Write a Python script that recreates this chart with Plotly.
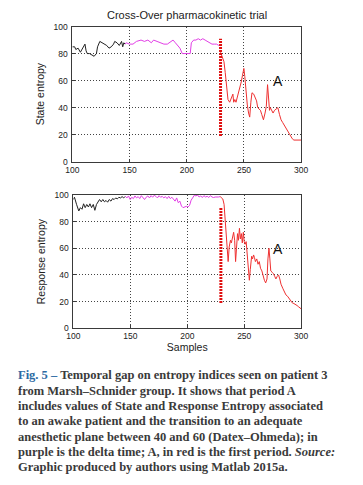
import plotly.graph_objects as go

# ---------------- data ----------------
# State entropy (top)
se_black_x = [100, 102, 103, 105, 107, 109, 111, 112, 113, 115, 117, 119, 121, 122, 124, 126, 128, 130, 132, 134, 136, 137, 139, 141, 143, 144, 145, 146]
se_black_y = [85, 85, 83, 84, 81, 84, 87, 82, 80, 80, 79, 78, 80, 85, 89, 88, 87, 86, 84, 85, 87, 89, 88, 86, 89, 85, 88, 87]
se_mag_x = [146, 147, 150, 153, 156, 160, 163, 166, 169, 171, 174, 177, 180, 183, 186, 188, 190, 192, 194, 196, 198, 200, 203, 204, 206, 208, 210, 212, 214, 216, 218, 220, 222, 224, 226, 228, 229.5]
se_mag_y = [87, 88, 87, 87, 89, 90, 89, 90, 88, 90, 89, 88, 87, 87, 89, 90, 88, 86, 84, 80, 80, 80, 80, 88, 90, 90, 91, 90, 91, 90, 89, 88, 87, 87, 87, 86, 86]
se_red_x = [229.5, 231.4, 232.5, 233.6, 234.7, 236, 237.5, 238.9, 240.3, 241, 242, 243, 244, 245, 246.5, 247.6, 248.7, 249.9, 250.7, 251.8, 252.9, 254, 255, 256, 257, 258.5, 260, 261, 262, 263.3, 264.4, 265.5, 267, 268.4, 269.5, 270.6, 271.5, 272.3, 273, 274, 275.4, 276.7, 278, 279.6, 281, 282.4, 283.8, 285.2, 286.6, 288, 289.4, 290.8, 292.2, 293.6, 295, 296.4, 300]
se_red_y = [81, 77, 74, 66, 56, 46, 44, 47, 50, 44, 46, 44, 47, 52, 56, 59, 64, 69, 63, 51, 42, 36, 33, 44, 51, 50, 47, 45, 40, 39, 38, 35, 31, 36, 41, 57, 46, 38, 40, 38, 36, 38, 39, 40, 35, 31, 29, 27, 24, 23, 21, 19, 17, 16, 16, 16, 16]

# Response entropy (bottom)
re_black_x = [100, 101, 102.8, 104.8, 106.2, 107.6, 109, 110.4, 111.8, 113.2, 114.6, 116, 117.5, 118.9, 120.3, 121.7, 123, 124.5, 125.9, 127.3, 128.7, 130.1, 131.5, 133, 134.4, 135.8, 137.2, 138.6, 140, 141.4, 142.8, 144.2, 145.6]
re_black_y = [96.6, 98.3, 93, 88, 90.5, 89.3, 93.4, 90.5, 92.9, 91, 93.4, 90.5, 92.9, 88.5, 92.9, 95.4, 96.6, 94.9, 96.6, 94.9, 95.9, 94.6, 96.6, 95.4, 97.3, 96.6, 97.8, 97.1, 98.3, 97.8, 98.8, 97.8, 99]
re_mag_x = [145.6, 147, 148.4, 149.9, 151.3, 152.7, 154.1, 155.5, 156.9, 158.3, 159.7, 161.1, 162.5, 163.9, 165.4, 166.8, 168.2, 169.6, 171, 172.4, 173.8, 175.2, 176.6, 178, 179.4, 180.8, 182.3, 183.7, 185.1, 186.5, 187.9, 189.3, 190.7, 192.1, 193.5, 194.9, 196.3, 197.7, 199.2, 200.6, 202, 203.4, 204.8, 206.2, 207.6, 209, 210.4, 211.8, 213.2, 214.6, 216.1, 217.5, 218.9, 220.3, 221.7, 223.1, 224.5, 225.9, 227.3, 228.9]
re_mag_y = [99, 97.8, 99.3, 96.6, 98.3, 97.3, 99.3, 97.8, 98.8, 97.3, 99.5, 98.3, 96.6, 98.3, 99.3, 97.8, 99.5, 98.3, 99.8, 99, 97.8, 99.5, 98.3, 99, 97.8, 98.8, 97.3, 99, 97.3, 98.3, 96.6, 95.4, 97.8, 94.2, 95.4, 91.7, 90.5, 91, 91.5, 91, 92.2, 96.1, 98.5, 99.8, 99.3, 100, 98.5, 99.3, 98.1, 99.5, 98.5, 99, 98.1, 99.5, 98.5, 98.1, 98.5, 98.3, 98.5, 98.8]
re_red_x = [228.9, 231.2, 232.3, 233.1, 234, 234.8, 235.9, 236.8, 237.9, 238.7, 239.9, 240.7, 241.6, 242.4, 243.2, 244.1, 244.9, 245.8, 246.6, 247.5, 248.3, 249.2, 250, 250.8, 251.7, 252.8, 253.7, 254.5, 255.3, 256.5, 257.3, 258.2, 259, 259.8, 261, 262.1, 263.2, 264.3, 265.5, 266.6, 267.7, 268.8, 270, 270.8, 271.7, 272.5, 273.3, 274.5, 275.6, 276.7, 277.8, 279, 280.1, 281.2, 282.3, 283.8, 285.2, 286.6, 288, 289.4, 290.8, 292.2, 293.6, 295, 296.4, 297.8, 300]
re_red_y = [98.8, 97, 93, 83, 69, 58, 50, 61, 66, 64, 71, 72, 66, 50, 60, 71, 66, 75, 67, 71, 64, 72, 65, 63, 65, 54, 44, 36, 44, 54, 52, 55, 53, 50, 52, 48, 50, 45, 43, 39, 36, 34, 37, 52, 60, 52, 43, 42, 41, 39, 37, 39, 40, 37, 33, 30, 27, 25, 24, 22, 20, 19, 18.5, 18, 17, 16, 14.5]

# Marker line (start of period A)
cut_x = [229.5, 229.5]
cut_top_y = [19, 91]
cut_bot_y = [19, 91]

label_x = 279.5
label_top_y = 60
label_bot_y = 59.5

x_ticks = [100, 150, 200, 250, 300]
y_ticks = [0, 20, 40, 60, 80, 100]

caption_lines = [
    "<span style='color:#2d6aa3'>Fig. 5 –</span> Temporal gap on entropy indices seen on patient 3",
    "from Marsh–Schnider group. It shows that period A",
    "includes values of State and Response Entropy associated",
    "to an awake patient and the transition to an adequate",
    "anesthetic plane between 40 and 60 (Datex–Ohmeda); in",
    "purple is the delta time; A, in red is the first period. <i>Source:</i>",
    "Graphic produced by authors using Matlab 2015a.",
]

# ---------------- figure ----------------
BLACK = "#222222"
MAG = "#e23ee6"
RED = "#ee3030"

fig = go.Figure()

def add_series(xs, ys, color, xa, ya, width=1):
    fig.add_trace(go.Scatter(x=xs, y=ys, mode="lines", line=dict(color=color, width=width),
                             xaxis=xa, yaxis=ya, showlegend=False, hoverinfo="skip"))

add_series(se_black_x, se_black_y, BLACK, "x", "y")
add_series(se_mag_x, se_mag_y, MAG, "x", "y")
add_series(se_red_x, se_red_y, RED, "x", "y")
fig.add_trace(go.Scatter(x=cut_x, y=cut_top_y, mode="lines", line=dict(color="#e01010", width=3, dash="2px,1px"),
                         xaxis="x", yaxis="y", showlegend=False, hoverinfo="skip"))

add_series(re_black_x, re_black_y, BLACK, "x2", "y2")
add_series(re_mag_x, re_mag_y, MAG, "x2", "y2")
add_series(re_red_x, re_red_y, RED, "x2", "y2")
fig.add_trace(go.Scatter(x=cut_x, y=cut_bot_y, mode="lines", line=dict(color="#e01010", width=3, dash="2px,1px"),
                         xaxis="x2", yaxis="y2", showlegend=False, hoverinfo="skip"))

axis_common = dict(
    showline=True, linecolor="#3a3a3a", linewidth=1, mirror=True,
    showgrid=True, gridcolor="#444444", griddash="1px,2px", gridwidth=1,
    zeroline=False, ticks="inside", ticklen=3, tickcolor="#3a3a3a",
    tickfont=dict(family="Liberation Sans, Arial", size=8.5, color="#222"),
)

H = 485.0
W = 363.0
fig.update_layout(
    width=363, height=485,
    margin=dict(l=0, r=0, t=0, b=0),
    paper_bgcolor="white", plot_bgcolor="white",
    xaxis=dict(domain=[68 / W, 306 / W], range=[100, 300], tickvals=x_ticks, anchor="y", **axis_common),
    yaxis=dict(domain=[1 - 160 / H, 1 - 22 / H], range=[0, 100], tickvals=y_ticks, anchor="x",
               title=dict(text="State entropy", font=dict(family="Liberation Sans, Arial", size=10.5, color="#222"), standoff=6),
               ticklabelstandoff=2, **axis_common),
    xaxis2=dict(domain=[69 / W, 306 / W], range=[100, 300], tickvals=x_ticks, anchor="y2",
                title=dict(text="Samples", font=dict(family="Liberation Sans, Arial", size=10.5, color="#222"), standoff=2),
                **axis_common),
    yaxis2=dict(domain=[1 - 330 / H, 1 - 194 / H], range=[0, 100], tickvals=y_ticks, anchor="x2",
                title=dict(text="Response entropy", font=dict(family="Liberation Sans, Arial", size=10.5, color="#222"), standoff=6),
                ticklabelstandoff=2, **axis_common),
)

# title
fig.add_annotation(text="Cross-Over pharmacokinetic trial", xref="paper", yref="paper",
                   x=187 / W, y=1 - 10 / H, showarrow=False, xanchor="center", yanchor="middle",
                   font=dict(family="Liberation Sans, Arial", size=11, color="#222"))

# "A" labels
fig.add_annotation(text="A", x=label_x, y=label_top_y, xref="x", yref="y", showarrow=False,
                   font=dict(family="Liberation Sans, Arial", size=14, color="#111"))
fig.add_annotation(text="A", x=label_x, y=label_bot_y, xref="x2", yref="y2", showarrow=False,
                   font=dict(family="Liberation Sans, Arial", size=14, color="#111"))

# caption
for i, line in enumerate(caption_lines):
    fig.add_annotation(text="<b>" + line + "</b>", xref="paper", yref="paper",
                       x=9 / W, y=1 - (378 + i * 15.7) / H, xanchor="left", yanchor="middle",
                       showarrow=False, align="left",
                       font=dict(family="Liberation Serif, DejaVu Serif", size=12.5, color="#3a3a3a"))

fig.write_html("out.html", config={"displayModeBar": False},
               post_script="document.body.style.margin='0';document.body.style.overflow='hidden';")
